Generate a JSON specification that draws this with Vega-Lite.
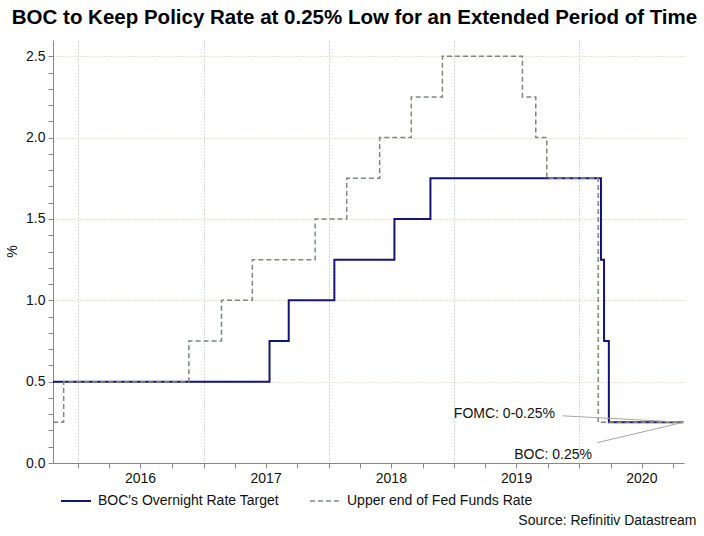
{
  "$schema": "https://vega.github.io/schema/vega-lite/v6.json",
  "width": 631,
  "height": 423,
  "autosize": {"type": "none"},
  "padding": {"left": 53, "top": 40, "right": 20, "bottom": 73},
  "background": "white",
  "config": {
    "font": "Liberation Sans",
    "view": {"stroke": null},
    "axis": {"labelFontSize": 14, "labelColor": "#111", "domainColor": "#888", "tickColor": "#888", "tickSize": 5, "titleFontWeight": "normal", "titleColor": "#111"}
  },
  "title": {
    "text": "BOC to Keep Policy Rate at 0.25% Low for an Extended Period of Time",
    "fontSize": 20.5,
    "fontWeight": "bold",
    "color": "#000",
    "anchor": "middle",
    "dx": -14,
    "offset": 12
  },
  "datasets": {
    "rates": [
      {"date": "2015-10-20", "rate": 0.5, "series": "BOC's Overnight Rate Target"},
      {"date": "2017-07-12", "rate": 0.75, "series": "BOC's Overnight Rate Target"},
      {"date": "2017-09-06", "rate": 1.0, "series": "BOC's Overnight Rate Target"},
      {"date": "2018-01-17", "rate": 1.25, "series": "BOC's Overnight Rate Target"},
      {"date": "2018-07-11", "rate": 1.5, "series": "BOC's Overnight Rate Target"},
      {"date": "2018-10-24", "rate": 1.75, "series": "BOC's Overnight Rate Target"},
      {"date": "2020-03-04", "rate": 1.25, "series": "BOC's Overnight Rate Target"},
      {"date": "2020-03-13", "rate": 0.75, "series": "BOC's Overnight Rate Target"},
      {"date": "2020-03-27", "rate": 0.25, "series": "BOC's Overnight Rate Target"},
      {"date": "2020-10-30", "rate": 0.25, "series": "BOC's Overnight Rate Target"},
      {"date": "2015-10-20", "rate": 0.25, "series": "Upper end of Fed Funds Rate"},
      {"date": "2015-11-20", "rate": 0.5, "series": "Upper end of Fed Funds Rate"},
      {"date": "2016-11-19", "rate": 0.75, "series": "Upper end of Fed Funds Rate"},
      {"date": "2017-02-22", "rate": 1.0, "series": "Upper end of Fed Funds Rate"},
      {"date": "2017-05-23", "rate": 1.25, "series": "Upper end of Fed Funds Rate"},
      {"date": "2017-11-22", "rate": 1.5, "series": "Upper end of Fed Funds Rate"},
      {"date": "2018-02-22", "rate": 1.75, "series": "Upper end of Fed Funds Rate"},
      {"date": "2018-05-29", "rate": 2.0, "series": "Upper end of Fed Funds Rate"},
      {"date": "2018-08-29", "rate": 2.25, "series": "Upper end of Fed Funds Rate"},
      {"date": "2018-11-28", "rate": 2.5, "series": "Upper end of Fed Funds Rate"},
      {"date": "2019-07-19", "rate": 2.25, "series": "Upper end of Fed Funds Rate"},
      {"date": "2019-08-27", "rate": 2.0, "series": "Upper end of Fed Funds Rate"},
      {"date": "2019-09-28", "rate": 1.75, "series": "Upper end of Fed Funds Rate"},
      {"date": "2020-02-25", "rate": 0.25, "series": "Upper end of Fed Funds Rate"},
      {"date": "2020-10-30", "rate": 0.25, "series": "Upper end of Fed Funds Rate"}
    ],
    "leaders": [
      {"date": "2019-11-13", "rate": 0.29, "date2": "2020-10-30", "rate2": 0.25},
      {"date": "2020-02-22", "rate": 0.125, "date2": "2020-10-30", "rate2": 0.25}
    ],
    "notes": [
      {"date": "2019-10-22", "rate": 0.303, "label": "FOMC: 0-0.25%"},
      {"date": "2020-02-07", "rate": 0.051, "label": "BOC: 0.25%"}
    ]
  },
  "encoding": {
    "x": {
      "field": "date",
      "type": "temporal",
      "scale": {"type": "utc", "domain": [{"year": 2015, "month": 10, "date": 20, "utc": true}, {"year": 2020, "month": 11, "date": 1, "utc": true}]},
      "axis": {
        "title": "Source: Refinitiv Datastream",
        "titleFontSize": 14,
        "titleX": 643,
        "titleY": 57,
        "titleAlign": "right",
        "titleBaseline": "middle",
        "titleAnchor": null,
        "values": [
          {"year": 2016, "month": 1, "date": 1, "utc": true},
          {"year": 2016, "month": 4, "date": 1, "utc": true},
          {"year": 2016, "month": 7, "date": 1, "utc": true},
          {"year": 2016, "month": 10, "date": 1, "utc": true},
          {"year": 2017, "month": 1, "date": 1, "utc": true},
          {"year": 2017, "month": 4, "date": 1, "utc": true},
          {"year": 2017, "month": 7, "date": 1, "utc": true},
          {"year": 2017, "month": 10, "date": 1, "utc": true},
          {"year": 2018, "month": 1, "date": 1, "utc": true},
          {"year": 2018, "month": 4, "date": 1, "utc": true},
          {"year": 2018, "month": 7, "date": 1, "utc": true},
          {"year": 2018, "month": 10, "date": 1, "utc": true},
          {"year": 2019, "month": 1, "date": 1, "utc": true},
          {"year": 2019, "month": 4, "date": 1, "utc": true},
          {"year": 2019, "month": 7, "date": 1, "utc": true},
          {"year": 2019, "month": 10, "date": 1, "utc": true},
          {"year": 2020, "month": 1, "date": 1, "utc": true},
          {"year": 2020, "month": 4, "date": 1, "utc": true},
          {"year": 2020, "month": 7, "date": 1, "utc": true},
          {"year": 2020, "month": 10, "date": 1, "utc": true}
        ],
        "labelExpr": "utcmonth(datum.value) == 0 ? utcFormat(datum.value, '%Y') : ''",
        "labelOffset": 62,
        "labelPadding": 3,
        "labelFlush": false,
        "labelOverlap": false,
        "labelBound": false,
        "grid": true,
        "gridColor": "#a9bda4",
        "gridDash": [1, 2],
        "gridOpacity": {"condition": {"test": "utcmonth(datum.value) == 0", "value": 1}, "value": 0}
      }
    },
    "y": {
      "field": "rate",
      "type": "quantitative",
      "scale": {"domain": [0, 2.6], "nice": false, "zero": true},
      "axis": {
        "title": "%",
        "titleFontSize": 14,
        "titleX": -41,
        "titleY": 211,
        "titleAngle": -90,
        "titleAlign": "center",
        "titleBaseline": "middle",
        "values": [0, 0.1, 0.2, 0.3, 0.4, 0.5, 0.6, 0.7, 0.8, 0.9, 1.0, 1.1, 1.2, 1.3, 1.4, 1.5, 1.6, 1.7, 1.8, 1.9, 2.0, 2.1, 2.2, 2.3, 2.4, 2.5],
        "labelExpr": "abs(datum.value * 2 - round(datum.value * 2)) < 0.001 ? format(datum.value, '.1f') : ''",
        "labelPadding": 3,
        "labelOverlap": false,
        "labelBound": false,
        "grid": true,
        "gridColor": "#e2c49c",
        "gridDash": [1, 2],
        "gridOpacity": {"condition": {"test": "abs(datum.value * 2 - round(datum.value * 2)) < 0.001 && datum.value > 0", "value": 1}, "value": 0}
      }
    }
  },
  "layer": [
    {
      "data": {"name": "rates"},
      "mark": {"type": "line", "interpolate": "step-after"},
      "encoding": {
        "color": {
          "field": "series",
          "type": "nominal",
          "scale": {"domain": ["BOC's Overnight Rate Target", "Upper end of Fed Funds Rate"], "range": ["#13137a", "#7f877f"]},
          "legend": {
            "title": null,
            "orient": "none",
            "legendX": 7,
            "legendY": 445,
            "direction": "horizontal",
            "symbolType": "stroke",
            "symbolSize": 900,
            "symbolStrokeWidth": 2,
            "labelFontSize": 14,
            "labelLimit": 0,
            "labelColor": "#111",
            "labelOffset": 6,
            "columnPadding": 28,
            "padding": 0
          }
        },
        "strokeDash": {
          "field": "series",
          "type": "nominal",
          "scale": {"domain": ["BOC's Overnight Rate Target", "Upper end of Fed Funds Rate"], "range": [[1, 0], [5, 3]]}
        },
        "strokeWidth": {
          "field": "series",
          "type": "nominal",
          "scale": {"domain": ["BOC's Overnight Rate Target", "Upper end of Fed Funds Rate"], "range": [2, 1.5]},
          "legend": null
        }
      }
    },
    {
      "data": {"name": "leaders"},
      "mark": {"type": "rule", "color": "#a6a6a6", "strokeWidth": 1},
      "encoding": {
        "x2": {"field": "date2"},
        "y2": {"field": "rate2"}
      }
    },
    {
      "data": {"name": "notes"},
      "mark": {"type": "text", "align": "right", "baseline": "middle", "fontSize": 14, "color": "#111"},
      "encoding": {
        "text": {"field": "label", "type": "nominal"}
      }
    }
  ]
}
